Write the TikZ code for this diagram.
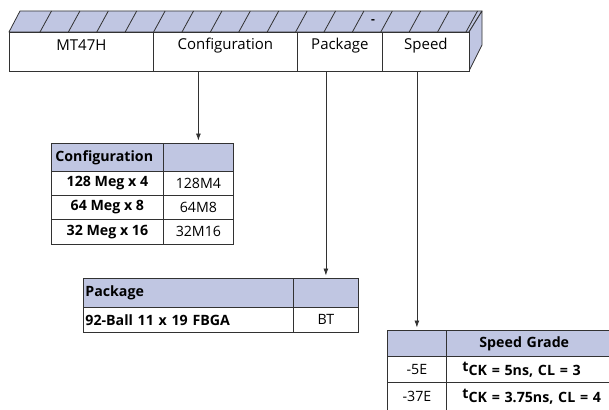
\documentclass[tikz,border=0pt]{standalone}
\usepackage{fontspec}
\setmainfont{Open Sans}
\usetikzlibrary{arrows.meta}
\definecolor{hdr}{RGB}{192,198,226}
\definecolor{ln}{RGB}{50,50,50}
\begin{document}
\begin{tikzpicture}[x=1pt,y=-1pt,
  cell/.style={draw=ln, line width=0.8pt, inner xsep=3pt, inner ysep=0pt, anchor=north west,
    font=\fontsize{14.2}{16}\selectfont\bfseries},
  val/.style={font=\fontsize{14.2}{16}\selectfont},
  hd/.style={fill=hdr},
  fbox/.style={draw=ln, line width=0.8pt, fill=white, anchor=north west, minimum height=39pt, inner sep=0pt},
  lab/.style={yshift=6.5pt, font=\fontsize{15}{18}\selectfont},
  arr/.style={draw=ln, line width=0.8pt, -{Latex[length=7pt,width=5pt]}, shorten >=2.5pt},
  face/.style={draw=ln, line width=0.8pt, fill=hdr, line join=round}
]
\useasboundingbox (0,0) rectangle (609,409);

% top and right faces of the bar
\draw[face] (9,32) -- (20,11) -- (482,11) -- (469,32) -- cycle;
\draw[face] (469,32) -- (482,11) -- (482,45) -- (469,71) -- cycle;
\foreach \k in {0,...,15} \draw[ln, line width=0.8pt] ({40+28.4*\k},32) -- ({51.5+28.4*\k},11);
\node[font=\fontsize{12}{14}\selectfont\bfseries, inner sep=0pt] (dash) at (373,22) {-};

% front face
\node[fbox, minimum width=144pt, label={[lab]center:MT47H}] (mt) at (9,32) {};
\node[fbox, minimum width=144pt, label={[lab]center:Configuration}] (cfg) at (153,32) {};
\node[fbox, minimum width=85pt, label={[lab]center:Package}] (pkg) at (297,32) {};
\node[fbox, minimum width=87pt, label={[lab]center:Speed}] (spd) at (382,32) {};

% configuration table
\node[cell, hd, minimum width=112pt, minimum height=28pt, text width=104pt, inner xsep=4pt, align=left] (t1h1) at (51,143) {Configuration};
\node[cell, hd, minimum width=70pt, minimum height=28pt] (t1h2) at (163,143) {};
\node[cell, minimum width=112pt, minimum height=24pt] (t1a1) at (51,171) {128 Meg x 4};
\node[cell, val, minimum width=70pt, minimum height=24pt] (t1a2) at (163,171) {128M4};
\node[cell, minimum width=112pt, minimum height=24pt] (t1b1) at (51,195) {64 Meg x 8};
\node[cell, val, minimum width=70pt, minimum height=24pt] (t1b2) at (163,195) {64M8};
\node[cell, minimum width=112pt, minimum height=25pt] (t1c1) at (51,219) {32 Meg x 16};
\node[cell, val, minimum width=70pt, minimum height=25pt] (t1c2) at (163,219) {32M16};

% package table
\node[cell, hd, minimum width=210pt, minimum height=29pt, text width=206pt, align=left, inner xsep=2pt] (t2h1) at (83,278) {Package};
\node[cell, hd, minimum width=65pt, minimum height=29pt] (t2h2) at (293,278) {};
\node[cell, minimum width=210pt, minimum height=25pt, text width=206pt, align=left, inner xsep=2pt] (t2a1) at (83,307) {92-Ball 11 x 19 FBGA};
\node[cell, val, minimum width=65pt, minimum height=25pt] (t2a2) at (293,307) {BT};

% speed grade table
\node[cell, hd, minimum width=59pt, minimum height=26pt] (t3h1) at (387,330) {};
\node[cell, hd, minimum width=168pt, minimum height=26pt, text width=162pt, align=left, inner xsep=3pt] (t3h2) at (446,330) {\hspace*{30pt}Speed Grade};
\node[cell, val, minimum width=59pt, minimum height=26pt] (t3a1) at (387,356) {-5E};
\node[cell, minimum width=168pt, minimum height=26pt, text width=150pt, align=left, inner xsep=16pt] (t3a2) at (446,356) {\raisebox{4pt}{t}CK = 5ns, CL = 3};
\node[cell, val, minimum width=59pt, minimum height=28pt] (t3b1) at (387,382) {-37E};
\node[cell, minimum width=168pt, minimum height=28pt, text width=150pt, align=left, inner xsep=16pt] (t3b2) at (446,382) {\raisebox{4pt}{t}CK = 3.75ns, CL = 4};

% connectors
\draw[arr] (cfg.south -| t1h2.north) -- (t1h2.north);
\draw[arr] (pkg.south -| t2h2.north) -- (t2h2.north);
\draw[arr] (spd.south -| t3h1.north) -- (t3h1.north);
\end{tikzpicture}
\end{document}
